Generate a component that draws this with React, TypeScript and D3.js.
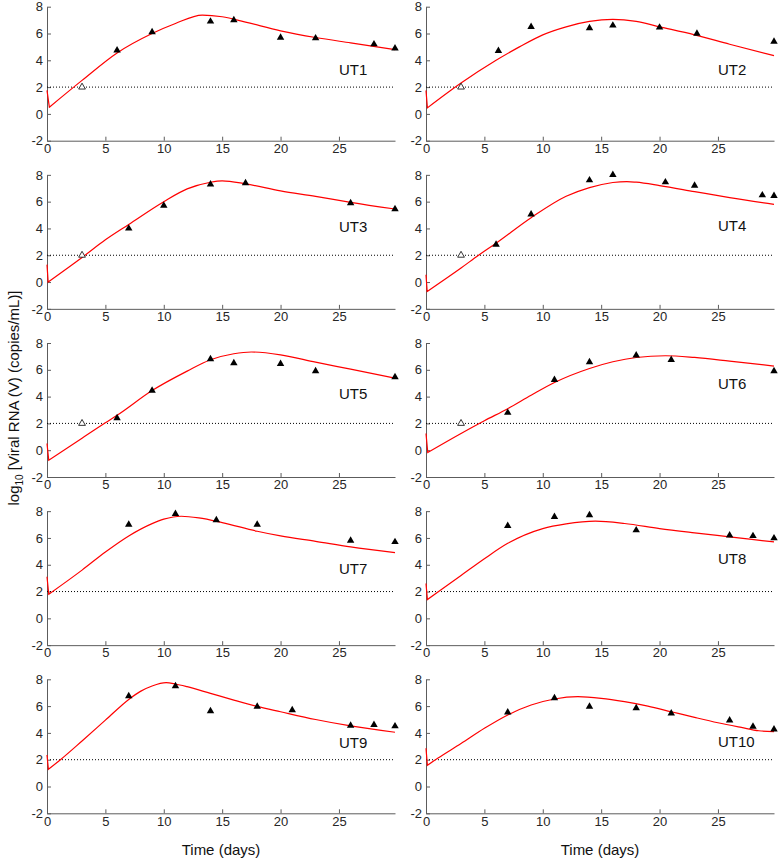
import React, {useEffect, useRef} from 'react';
import * as d3 from 'd3';

// subjects, one panel each (left/right, top to bottom)
const subjects = ['UT1', 'UT2', 'UT3', 'UT4', 'UT5', 'UT6', 'UT7', 'UT8', 'UT9', 'UT10'];

// observed viral loads (log10 copies/mL)
const obsDays = [
    [6, 9, 14, 16, 20, 23, 28, 29.8],
    [6.2, 9, 14, 16, 20, 23.2, 29.8],
    [7, 10, 14, 17, 26, 29.8],
    [6, 9, 14, 16, 20.5, 23, 28.8, 29.8],
    [6, 9, 14, 16, 20, 23, 29.8],
    [7, 11, 14, 18, 21, 29.8],
    [7, 11, 14.5, 18, 26, 29.8],
    [7, 11, 14, 18, 26, 28, 29.8],
    [7, 11, 14, 18, 21, 26, 28, 29.8],
    [7, 11, 14, 18, 21, 26, 28, 29.8],
];
const obsLoad = [
    [4.75, 6.1, 6.9, 7.0, 5.7, 5.65, 5.2, 4.9],
    [4.7, 6.5, 6.4, 6.6, 6.45, 6.0, 5.4],
    [4.0, 5.7, 7.3, 7.38, 5.9, 5.45],
    [2.8, 5.05, 7.6, 8.0, 7.45, 7.2, 6.48, 6.43],
    [2.4, 4.45, 6.8, 6.5, 6.45, 5.9, 5.45],
    [2.8, 5.25, 6.58, 7.08, 6.75, 5.9],
    [7.0, 7.8, 7.33, 7.0, 5.8, 5.7],
    [6.9, 7.57, 7.7, 6.58, 6.2, 6.15, 5.98],
    [6.75, 7.5, 5.63, 5.96, 5.7, 4.54, 4.6, 4.5],
    [5.53, 6.6, 5.96, 5.86, 5.46, 4.94, 4.47, 4.27],
];

// samples below detection limit (open triangles)
const detectionLimit = 2;
const censoredDays = [[3], [3], [3], [3], [3], [3], [], [], [], []];

// model fit
const fitDays = [
    [0, 0.2, 3, 6, 9, 11, 13.3, 15, 17, 20, 23, 26, 29.8],
    [0, 0.12, 3, 6, 8, 10, 12, 14, 16, 18, 20, 23, 26, 29.8],
    [0, 0.1, 3, 5, 7, 10, 12, 14, 15, 17, 20, 23, 26, 29.8],
    [0, 0.1, 3, 4.5, 6, 9, 12, 14, 16, 17.2, 18, 20, 23, 26, 29.8],
    [0, 0.15, 3, 5, 6, 9, 12, 14, 16, 17.5, 20, 23, 26, 29.8],
    [0, 0.15, 3, 5, 7, 9, 11, 14, 16, 18, 20.5, 23, 26, 29.8],
    [0, 0.15, 3, 5, 7, 9, 10, 11.5, 13, 15, 18, 20, 23, 26, 29.8],
    [0, 0.12, 3, 5, 7, 10, 12, 14.5, 17, 20, 23, 26, 29.8],
    [0, 0.12, 1.15, 3, 5, 7, 8, 9, 10.2, 11, 12, 14, 16, 18, 20, 23, 26, 29.8],
    [0, 0.12, 1, 3, 5, 7, 9, 11, 13, 15, 17, 19, 21, 23, 25, 27, 28.5, 29.8],
];
const fitLoad = [
    [1.75, 0.5, 2.5, 4.55, 6.0, 6.75, 7.37, 7.25, 6.85, 6.2, 5.7, 5.3, 4.8],
    [1.75, 0.45, 2.3, 4.0, 5.0, 5.9, 6.5, 6.9, 7.05, 6.9, 6.5, 5.9, 5.2, 4.35],
    [1.3, 0.0, 1.83, 3.15, 4.3, 6.0, 6.95, 7.45, 7.55, 7.33, 6.8, 6.4, 5.95, 5.45],
    [0.55, -0.7, 1.05, 2.0, 2.9, 4.8, 6.4, 7.05, 7.43, 7.5, 7.45, 7.2, 6.75, 6.3, 5.8],
    [0.5, -0.75, 0.9, 2.05, 2.6, 4.45, 5.9, 6.75, 7.2, 7.33, 7.12, 6.57, 6.05, 5.38],
    [1.25, -0.17, 1.25, 2.2, 3.1, 4.1, 5.05, 6.1, 6.6, 6.92, 7.05, 6.92, 6.65, 6.28],
    [3.1, 1.8, 3.6, 4.95, 6.15, 7.07, 7.4, 7.62, 7.5, 7.15, 6.5, 6.15, 5.75, 5.33, 4.9],
    [2.6, 1.4, 3.2, 4.45, 5.6, 6.7, 7.05, 7.25, 7.08, 6.7, 6.38, 6.08, 5.7],
    [2.35, 1.28, 2.0, 3.4, 4.95, 6.5, 7.1, 7.5, 7.75, 7.65, 7.45, 6.95, 6.45, 5.98, 5.58, 5.0, 4.52, 4.05],
    [2.85, 1.58, 2.1, 3.2, 4.34, 5.34, 6.08, 6.53, 6.7, 6.58, 6.33, 6.0, 5.58, 5.16, 4.76, 4.41, 4.16, 4.1],
];

// where the subject label sits (day, log10 level of baseline)
const labelDay = 25;
const labelLevel = [2.88, 2.88, 3.77, 3.84, 3.8, 4.6, 3.34, 4.08, 2.85, 2.98];

const xTicks = [0, 5, 10, 15, 20, 25];
const yTicks = [-2, 0, 2, 4, 6, 8];
const dayMax = 29.8;

function App() {
    const svgRef = useRef();
    const width = 780;
    const height = 862;

    useEffect(() => {
        const svg = d3.select(svgRef.current);
        svg.selectAll("*").remove();

        const font = "'Liberation Sans', Arial, Helvetica, sans-serif";
        const colLeft = [47, 426];
        const plotW = 348;
        const plotH = 134;
        const rowTop = 6.7;
        const rowStep = 168.15;

        const x = d3.scaleLinear().domain([0, dayMax]).range([0, plotW]);
        const y = d3.scaleLinear().domain([-2, 8]).range([plotH, 0]);

        // the initial drop is a sharp corner, the rest is smooth
        const dropLine = d3.line()
            .x(d => x(d[0]))
            .y(d => y(d[1]));
        const line = d3.line()
            .x(d => x(d[0]))
            .y(d => y(d[1]))
            .curve(d3.curveMonotoneX);

        const tri = d3.symbol().type(d3.symbolTriangle).size(24);

        subjects.forEach((name, i) => {
            const col = i % 2;
            const row = Math.floor(i / 2);
            const g = svg.append('g')
                .attr('transform', `translate(${colLeft[col]}, ${rowTop + row * rowStep})`);

            // axes
            const xAxis = g.append('g')
                .attr('transform', `translate(0, ${plotH})`)
                .call(d3.axisBottom(x).tickValues(xTicks).tickSizeInner(-4).tickSizeOuter(0).tickPadding(3).tickFormat(d => String(d)));
            const yAxis = g.append('g')
                .call(d3.axisLeft(y).tickValues(yTicks).tickSizeInner(-4).tickSizeOuter(0).tickPadding(4).tickFormat(d => String(d)));

            [xAxis, yAxis].forEach(a => {
                a.selectAll('path, line').attr('stroke', '#5c5c5c').attr('stroke-width', 1);
                a.selectAll('text')
                    .attr('fill', '#262626')
                    .style('font-family', font)
                    .style('font-size', '13px');
            });

            // detection limit
            g.append('line')
                .attr('x1', x(0))
                .attr('x2', x(dayMax))
                .attr('y1', y(detectionLimit))
                .attr('y2', y(detectionLimit))
                .attr('stroke', '#000')
                .attr('stroke-width', 1)
                .attr('stroke-dasharray', '1,2');

            // fitted curve
            const fit = fitDays[i].map((t, k) => [t, fitLoad[i][k]]);
            g.append('path')
                .attr('d', dropLine(fit.slice(0, 2)) + line(fit.slice(1)).replace(/^M[^CLH V]*/, ''))
                .attr('fill', 'none')
                .attr('stroke', '#ff0000')
                .attr('stroke-width', 1.2)
                .attr('stroke-linejoin', 'miter');

            // observations
            g.selectAll('.obs')
                .data(obsDays[i].map((t, k) => [t, obsLoad[i][k]]))
                .join('path')
                .attr('class', 'obs')
                .attr('d', tri)
                .attr('transform', d => `translate(${x(d[0])}, ${y(d[1])})`)
                .attr('fill', '#000');

            g.selectAll('.cens')
                .data(censoredDays[i])
                .join('path')
                .attr('class', 'cens')
                .attr('d', d3.symbol().type(d3.symbolTriangle).size(20))
                .attr('transform', d => `translate(${x(d)}, ${y(detectionLimit)})`)
                .attr('fill', '#fff')
                .attr('stroke', '#000')
                .attr('stroke-width', 0.8);

            g.append('text')
                .attr('x', x(labelDay))
                .attr('y', y(labelLevel[i]))
                .style('font-family', font)
                .style('font-size', '15px')
                .attr('fill', '#111')
                .text(name);

            if (row === 4) {
                g.append('text')
                    .attr('x', plotW / 2)
                    .attr('y', plotH + 42)
                    .attr('text-anchor', 'middle')
                    .style('font-family', font)
                    .style('font-size', '15px')
                    .attr('fill', '#111')
                    .text('Time (days)');
            }
        });

        // shared y label
        const yl = svg.append('text')
            .attr('transform', 'translate(19, 398) rotate(-90)')
            .attr('text-anchor', 'middle')
            .style('font-family', font)
            .style('font-size', '15px')
            .attr('fill', '#111');
        yl.append('tspan').text('log');
        yl.append('tspan').attr('dy', 4).style('font-size', '10px').text('10');
        yl.append('tspan').attr('dy', -4).text(' [Viral RNA (V) (copies/mL)]');

    }, []);

    return (
        <svg ref={svgRef} width={width} height={height}
             style={{position: 'absolute', left: 0, top: 0, background: '#fff'}}/>
    );
}

export default App;
